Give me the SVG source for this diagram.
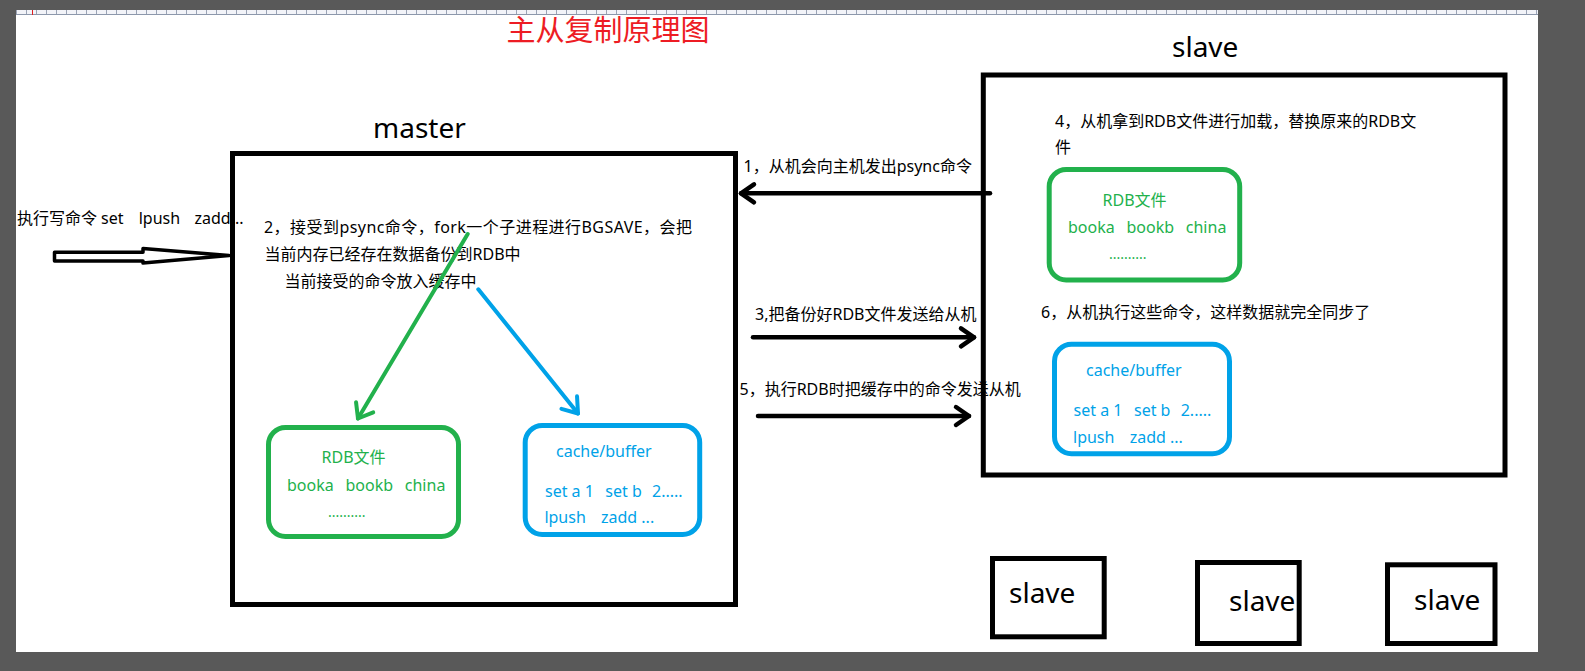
<svg xmlns="http://www.w3.org/2000/svg" width="1585" height="671" viewBox="0 0 1585 671">
<style>
  .t { font-family: "Noto Sans", "Noto Sans CJK SC", sans-serif; font-size: 16px; fill: #000; }
  .big { font-size: 28px; }
  .g { fill: #22b14c; }
  .b { fill: #00a2e8; }
  .frame { fill: none; stroke: #000; stroke-width: 5; }
  .gbox { fill: none; stroke: #22b14c; stroke-width: 5; }
  .bbox { fill: none; stroke: #00a2e8; stroke-width: 5; }
  .blk { fill: none; stroke: #000; stroke-width: 4.5; stroke-linecap: round; }
</style>
<defs>
  <pattern id="ticks" x="16" y="10" width="10" height="5" patternUnits="userSpaceOnUse">
    <rect x="0" y="0" width="10" height="5" fill="#f2f3f8"/>
    <line x1="0.5" y1="0" x2="0.5" y2="5" stroke="#9aa3b5" stroke-width="1"/>
  </pattern>
  <marker id="vk" markerUnits="userSpaceOnUse" viewBox="-16 -12 18 24" refX="0" refY="0" markerWidth="18" markerHeight="24" orient="auto" overflow="visible">
    <path d="M-13,-9 L0,0 L-13,9" fill="none" stroke="#000" stroke-width="4.5" stroke-linecap="round" stroke-linejoin="round"/>
  </marker>
  <marker id="vg" markerUnits="userSpaceOnUse" viewBox="-16 -12 18 24" refX="0" refY="0" markerWidth="18" markerHeight="24" orient="auto" overflow="visible">
    <path d="M-13,-10 L0,0 L-13,10" fill="none" stroke="#22b14c" stroke-width="4" stroke-linecap="round" stroke-linejoin="round"/>
  </marker>
  <marker id="vb" markerUnits="userSpaceOnUse" viewBox="-16 -12 18 24" refX="0" refY="0" markerWidth="18" markerHeight="24" orient="auto" overflow="visible">
    <path d="M-14,-10 L0,0 L-14,10" fill="none" stroke="#00a2e8" stroke-width="4" stroke-linecap="round" stroke-linejoin="round"/>
  </marker>
</defs>

<g id="background">
  <rect x="0" y="0" width="1585" height="671" fill="#595959"/>
  <rect x="16" y="10" width="1522" height="642" fill="#fff"/>
  <rect x="16" y="10" width="1522" height="5" fill="url(#ticks)"/>
  <line x1="16" y1="14.5" x2="1538" y2="14.5" stroke="#8c97ab" stroke-width="1"/>
  <line x1="32.5" y1="10" x2="32.5" y2="15" stroke="#e02020" stroke-width="1"/>
</g>

<g id="title">
  <text x="506.5" y="40.5" style="font-family:'Noto Sans CJK SC',sans-serif;font-size:29px;fill:#ed1c24">主从复制原理图</text>
</g>

<g id="master">
  <rect class="frame" x="232.5" y="153.5" width="503" height="451"/>
  <text class="t big" x="373" y="138">master</text>
  <text class="t" x="264" y="233" textLength="428" lengthAdjust="spacing">2，接受到psync命令，fork一个子进程进行BGSAVE，会把</text>
  <text class="t" x="264.5" y="260">当前内存已经存在数据备份到RDB中</text>
  <text class="t" x="284.5" y="287">当前接受的命令放入缓存中</text>
</g>

<g id="master-rdb">
  <rect class="gbox" x="268.5" y="427.5" width="190" height="109" rx="17"/>
  <text class="t g" x="321.5" y="463">RDB文件</text>
  <text class="t g" y="491"><tspan x="287">booka</tspan><tspan x="345.5">bookb</tspan><tspan x="404.8">china</tspan></text>
  <text class="t g" x="328" y="516.7" style="font-size:14px">..........</text>
</g>

<g id="master-cache">
  <rect class="bbox" x="525.2" y="425.5" width="174.5" height="109" rx="17"/>
  <text class="t b" x="556" y="456.7">cache/buffer</text>
  <text class="t b" y="496.7"><tspan x="545">set a 1</tspan><tspan x="605.3">set b</tspan><tspan x="652">2.....</tspan></text>
  <text class="t b" y="523"><tspan x="544.4">lpush</tspan><tspan x="601">zadd ...</tspan></text>
</g>

<g id="slave-main">
  <rect class="frame" x="983.3" y="75" width="521.7" height="400"/>
  <text class="t big" x="1172" y="57.3">slave</text>
  <text class="t" x="1055" y="127.3">4，从机拿到RDB文件进行加载，替换原来的RDB文</text>
  <text class="t" x="1055" y="153.3">件</text>
  <text class="t" x="1041" y="318">6，从机执行这些命令，这样数据就完全同步了</text>
</g>

<g id="slave-rdb">
  <rect class="gbox" x="1049.2" y="169.5" width="190.5" height="110.5" rx="17"/>
  <text class="t g" x="1102.5" y="206">RDB文件</text>
  <text class="t g" y="232.7"><tspan x="1068">booka</tspan><tspan x="1126.5">bookb</tspan><tspan x="1185.8">china</tspan></text>
  <text class="t g" x="1109" y="259" style="font-size:14px">..........</text>
</g>

<g id="slave-cache">
  <rect class="bbox" x="1054.5" y="344.2" width="175" height="109.5" rx="17"/>
  <text class="t b" x="1086" y="376">cache/buffer</text>
  <text class="t b" y="416"><tspan x="1073.6">set a 1</tspan><tspan x="1134">set b</tspan><tspan x="1180.7">2.....</tspan></text>
  <text class="t b" y="442.7"><tspan x="1073">lpush</tspan><tspan x="1129.7">zadd ...</tspan></text>
</g>

<g id="slave-1">
  <rect class="frame" x="992.5" y="558.5" width="111.7" height="78.3"/>
  <text class="t big" x="1009" y="602.7">slave</text>
</g>
<g id="slave-2">
  <rect class="frame" x="1197.5" y="562.5" width="101.7" height="81"/>
  <text class="t big" x="1229" y="610.7">slave</text>
</g>
<g id="slave-3">
  <rect class="frame" x="1387.5" y="564.8" width="107.5" height="78.7"/>
  <text class="t big" x="1414" y="610">slave</text>
</g>

<g id="connectors">
  <path id="write-arrow" d="M54.5,252.3 H143 V248.5 L229,255.5 L143,263 V261 H54.5 Z" fill="#fff" stroke="#000" stroke-width="3.5" stroke-linejoin="round"/>
  <line id="e1" class="blk" x1="990" y1="193.3" x2="741" y2="193.3" marker-end="url(#vk)"/>
  <line id="e3" class="blk" x1="753" y1="337.3" x2="974" y2="337.3" marker-end="url(#vk)"/>
  <line id="e5" class="blk" x1="758" y1="416" x2="969" y2="416" marker-end="url(#vk)"/>
  <line id="e-rdb" x1="467.7" y1="234" x2="358" y2="418.5" stroke="#22b14c" stroke-width="4" stroke-linecap="round" marker-end="url(#vg)"/>
  <line id="e-cache" x1="478.3" y1="289.3" x2="578" y2="413.5" stroke="#00a2e8" stroke-width="4" stroke-linecap="round" marker-end="url(#vb)"/>
</g>

<g id="connector-labels">
  <text class="t" y="224"><tspan x="17">执行写命令</tspan><tspan x="101">set</tspan><tspan x="138.7">lpush</tspan><tspan x="194.5">zadd...</tspan></text>
  <text class="t" x="743.5" y="171.7">1，从机会向主机发出psync命令</text>
  <text class="t" x="755" y="320">3,把备份好RDB文件发送给从机</text>
  <text class="t" x="739.5" y="395">5，执行RDB时把缓存中的命令发送从机</text>
</g>
</svg>
